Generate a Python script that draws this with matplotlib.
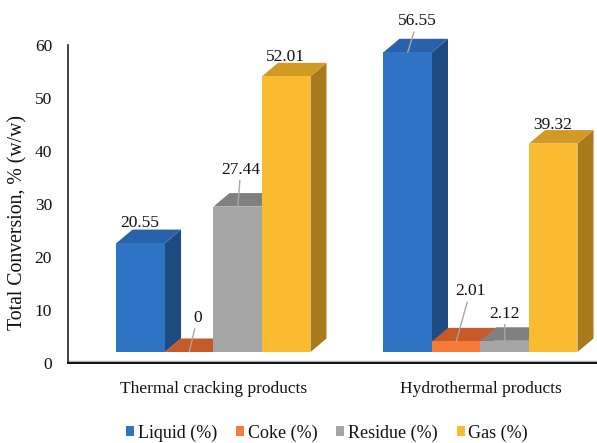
import matplotlib
matplotlib.use("Agg")
import matplotlib.pyplot as plt
from matplotlib.patches import Polygon, Patch
from matplotlib.lines import Line2D

# ---- data ----
categories = ["Thermal cracking products", "Hydrothermal products"]
series = ["Liquid (%)", "Coke (%)", "Residue (%)", "Gas (%)"]
liquid = [20.55, 56.55]
coke = [0, 2.01]
residue = [27.44, 2.12]
gas = [52.01, 39.32]
yticks = [0, 10, 20, 30, 40, 50, 60]

values = [liquid, coke, residue, gas]

# face colours: front, right side, top
front = ["#2E73C4", "#F47B38", "#A5A5A5", "#FBBB30"]
side = ["#1F4C80", "#A9521F", "#7C7C7C", "#A97A1C"]
top = ["#2862AA", "#C65A28", "#808080", "#D19A22"]

# label offsets (pixels from the top-front centre of each bar) and leader flags
label_offsets = [[(-1, 20), (8, 34), (3, 37), (-1, 19)],
                 [(9.5, 31), (14, 50), (0, 27), (-1, 19)]]
leaders = [[False, True, True, False],
           [True, True, True, False]]

plt.rcParams["font.family"] = ["Liberation Serif", "DejaVu Serif"]

W, H = 597, 443
fig = plt.figure(figsize=(W / 100, H / 100), dpi=100)

ax_left, ax_right, ax_bottom, ax_top = 68, 597, 363, 45
ax = fig.add_axes([ax_left / W, 1 - ax_bottom / H,
                   (ax_right - ax_left) / W, (ax_bottom - ax_top) / H])
ax.set_ylim(0, 60)
px_per_x = 267.0
x0_px = 213.5
ax.set_xlim((ax_left - x0_px) / px_per_x, (ax_right - x0_px) / px_per_x)
px_per_y = (ax_bottom - ax_top) / 60.0

bar_w = 48.5 / px_per_x
depth_x = 16 / px_per_x
depth_y = 13.5 / px_per_y
floor = 11 / px_per_y

for g in range(len(categories)):
    for i in range(len(series)):
        v = values[i][g]
        x = g + (i - 1.5) * bar_w
        z = 2 + 0.1 * i
        xl, xr = x - bar_w / 2, x + bar_w / 2
        yb, yt = floor, floor + v
        # right side face
        ax.add_patch(Polygon([(xr, yb), (xr + depth_x, yb + depth_y),
                              (xr + depth_x, yt + depth_y), (xr, yt)],
                             closed=True, facecolor=side[i], edgecolor="none",
                             zorder=z, clip_on=False))
        # top face
        ax.add_patch(Polygon([(xl, yt), (xr, yt), (xr + depth_x, yt + depth_y),
                              (xl + depth_x, yt + depth_y)],
                             closed=True, facecolor=top[i], edgecolor="none",
                             zorder=z, clip_on=False))
        # front face
        ax.bar(x, v, width=bar_w, bottom=floor, color=front[i],
               edgecolor="none", zorder=z + 0.01, clip_on=False)

        dx, dy = label_offsets[g][i]
        kw = {}
        if leaders[g][i]:
            kw["arrowprops"] = dict(arrowstyle="-", color="#A6A6A6", lw=1.0,
                                    shrinkA=0, shrinkB=0)
        ax.annotate(f"{v:g}", xy=(x, yt), xytext=(dx, dy),
                    textcoords="offset pixels", ha="center", va="center",
                    fontsize=12.5, color="#111111", zorder=10,
                    annotation_clip=False, **kw)

# axes styling
for s in ("top", "right"):
    ax.spines[s].set_visible(False)
ax.spines["left"].set_color("#222222")
ax.spines["left"].set_linewidth(1.2)
ax.spines["bottom"].set_color("#111111")
ax.spines["bottom"].set_linewidth(1.4)
ax.add_line(Line2D([ax.get_xlim()[0], ax.get_xlim()[1]], [0.45, 0.45],
                   color="#B0B0B0", lw=1.0, zorder=1.5, clip_on=False))

ax.set_yticks(yticks)
ax.set_yticklabels([str(t) for t in yticks])
ax.set_xticks([0, 1])
ax.set_xticklabels(categories)
ax.tick_params(axis="y", length=0, pad=11.5, labelsize=12.5, labelcolor="#111111")
ax.tick_params(axis="x", length=0, pad=13, labelsize=12.5, labelcolor="#111111")

fig.text(18 / W, 1 - 222 / H, "Total Conversion, % (w/w)", rotation=90,
         ha="center", va="center", fontsize=14.2, color="#111111")

handles = [Patch(facecolor=c, edgecolor="none") for c in front]
fig.legend(handles, series, loc="center", bbox_to_anchor=(327 / W, 1 - 433 / H),
           ncol=4, frameon=False, fontsize=13, handlelength=0.45,
           handleheight=0.45, handletextpad=0.2, columnspacing=1.05,
           labelcolor="#111111")

fig.savefig("out.png", dpi=100)
